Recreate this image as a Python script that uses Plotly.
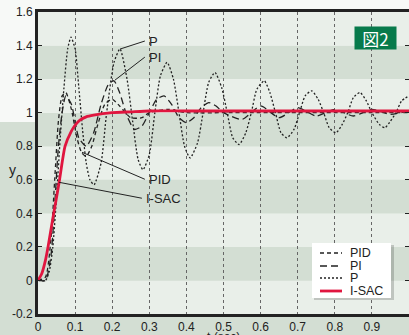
import plotly.graph_objects as go

# ---------------- data ----------------
x_ticks = [0, 0.1, 0.2, 0.3, 0.4, 0.5, 0.6, 0.7, 0.8, 0.9]
x_ticklabels = ["0", "0.1", "0.2", "0.3", "0.4", "0.5", "0.6", "0.7", "0.8", "0.9"]
y_ticks = [-0.2, 0, 0.2, 0.4, 0.6, 0.8, 1.0, 1.2, 1.4, 1.6]
y_ticklabels = ["-0.2", "0", "0.2", "0.4", "0.6", "0.8", "1", "1.2", "1.4", "1.6"]

t_isac = [0, 0.01, 0.02, 0.027, 0.04, 0.057, 0.073, 0.09, 0.1, 0.113, 0.13, 0.15, 0.2, 0.25, 0.3, 0.4, 0.5, 0.6, 0.7, 0.8, 0.9, 1.0]
y_isac = [0, 0.04, 0.12, 0.2, 0.37, 0.585, 0.8, 0.89, 0.925, 0.955, 0.975, 0.985, 1.0, 1.005, 1.01, 1.01, 1.01, 1.01, 1.01, 1.01, 1.01, 1.01]

t_p = [0, 0.02, 0.03, 0.04, 0.05, 0.06, 0.07, 0.08, 0.089, 0.1, 0.11, 0.12, 0.13, 0.14, 0.151,
       0.17, 0.185, 0.205, 0.221, 0.24, 0.255, 0.27, 0.283, 0.30, 0.315, 0.33, 0.348, 0.365,
       0.38, 0.395, 0.41, 0.43, 0.445, 0.46, 0.477, 0.495, 0.51, 0.525, 0.542, 0.56, 0.575,
       0.59, 0.61, 0.625, 0.64, 0.655, 0.671, 0.69, 0.705, 0.72, 0.738, 0.755, 0.77, 0.785,
       0.803, 0.82, 0.835, 0.85, 0.868, 0.885, 0.90, 0.92, 0.935, 0.95, 0.965, 0.98, 1.0]
y_p = [0, 0.0, 0.05, 0.2, 0.5, 0.85, 1.15, 1.38, 1.45, 1.38, 1.15, 0.9, 0.7, 0.6, 0.57,
       0.7, 1.0, 1.3, 1.38, 1.2, 0.95, 0.72, 0.66, 0.75, 1.0, 1.22, 1.30, 1.2,
       1.0, 0.8, 0.73, 0.82, 1.0, 1.18, 1.24, 1.15, 1.0, 0.85, 0.81, 0.88, 1.0,
       1.14, 1.19, 1.12, 1.0, 0.88, 0.85, 0.9, 1.0, 1.1, 1.13, 1.08, 1.0, 0.91,
       0.88, 0.93, 1.0, 1.09, 1.12, 1.07, 1.0, 0.93, 0.91, 0.95, 1.0, 1.07, 1.1]

t_pi = [0, 0.02, 0.035, 0.045, 0.055, 0.065, 0.075, 0.09, 0.11, 0.13, 0.15, 0.17, 0.19, 0.205,
        0.22, 0.24, 0.26, 0.28, 0.3, 0.32, 0.34, 0.36, 0.38, 0.4, 0.42, 0.44, 0.46, 0.48, 0.5,
        0.55, 0.6, 0.65, 0.7, 0.75, 0.8, 0.85, 0.9, 0.95, 1.0]
y_pi = [0, 0.0, 0.15, 0.45, 0.8, 1.0, 1.1, 1.05, 0.85, 0.8, 0.88, 1.05, 1.17, 1.19,
        1.12, 0.98, 0.9, 0.92, 1.0, 1.08, 1.1, 1.05, 0.97, 0.94, 0.97, 1.03, 1.06, 1.04, 1.0,
        0.96, 1.04, 0.97, 1.03, 0.98, 1.02, 0.98, 1.02, 0.99, 1.01]

t_pid = [0, 0.02, 0.035, 0.045, 0.055, 0.065, 0.075, 0.09, 0.105, 0.118, 0.13, 0.145, 0.16,
         0.18, 0.2, 0.22, 0.25, 0.28, 0.3, 0.35, 0.4, 0.5, 0.6, 0.7, 0.8, 0.9, 1.0]
y_pid = [0, 0.02, 0.25, 0.6, 0.95, 1.1, 1.12, 1.02, 0.85, 0.76, 0.74, 0.8, 0.92,
         1.05, 1.08, 1.04, 0.97, 0.97, 1.0, 1.02, 1.0, 1.0, 1.0, 1.0, 1.0, 1.0, 1.0]

series = [
    ("PID", t_pid, y_pid),
    ("PI", t_pi, y_pi),
    ("P", t_p, y_p),
    ("I-SAC", t_isac, y_isac),
]

# ---------------- styles ----------------
styles = {
    "PID": dict(color="#222222", width=1.3, dash="4px,3px"),
    "PI": dict(color="#222222", width=1.3, dash="7px,4px"),
    "P": dict(color="#222222", width=1.3, dash="2px,2px"),
    "I-SAC": dict(color="#e0163f", width=2.8, dash="solid"),
}

fig = go.Figure()
for name, t, y in series:
    fig.add_trace(go.Scatter(x=t, y=y, mode="lines", name=name, showlegend=False,
                             line=dict(shape="spline", smoothing=0.6, **styles[name])))

# dummy trace for right-side ticks
fig.add_trace(go.Scatter(x=[0], y=[0], yaxis="y2", mode="lines", showlegend=False,
                         hoverinfo="skip", line=dict(width=0)))

LIGHT = "#e9efe9"
DARK = "#d3ded3"
shapes = []
# page background lower part
shapes.append(dict(type="rect", xref="paper", yref="paper", x0=-0.2, x1=1.1, y0=-0.2, y1=0.636,
                   fillcolor=DARK, line_width=0, layer="below"))
# bands
for i in range(9):
    y0 = -0.2 + 0.2 * i
    shapes.append(dict(type="rect", xref="x", yref="y", x0=0, x1=1.0, y0=y0, y1=y0 + 0.2,
                       fillcolor=(LIGHT if i % 2 == 0 else DARK), line_width=0, layer="below"))

# label pointer lines
pointers = [
    ("P", 0.221, 1.379, 0.288, 1.427),
    ("PI", 0.2075, 1.194, 0.288, 1.331),
    ("PID", 0.1186, 0.764, 0.288, 0.603),
    ("I-SAC", 0.0566, 0.585, 0.280, 0.49),
]
annotations = []
for name, x0, y0, x1, y1 in pointers:
    shapes.append(dict(type="line", xref="x", yref="y", x0=x0, y0=y0, x1=x1, y1=y1,
                       line=dict(color="#222222", width=1)))
    annotations.append(dict(x=x1 + 0.005, y=y1, xref="x", yref="y", text=name, showarrow=False,
                            xanchor="left", yanchor="middle",
                            font=dict(family="Liberation Sans, Arial", size=13, color="#222222")))

# custom legend box (paper coords): px x 312-391, y 243-298
def px2paper_x(px):
    return (px - 38) / 371.0

def px2paper_y(py):
    return (314 - py) / 302.0

shapes.append(dict(type="rect", xref="paper", yref="paper",
                   x0=px2paper_x(314), x1=px2paper_x(394), y0=px2paper_y(300), y1=px2paper_y(245),
                   fillcolor="rgba(0,0,0,0.18)", line_width=0))
shapes.append(dict(type="rect", xref="paper", yref="paper",
                   x0=px2paper_x(312), x1=px2paper_x(391), y0=px2paper_y(298), y1=px2paper_y(243),
                   fillcolor="white", line_width=0))
leg_rows = [253, 266, 278, 291]
for (name, _, _), py in zip(series, leg_rows):
    st = styles[name]
    shapes.append(dict(type="line", xref="paper", yref="paper",
                       x0=px2paper_x(320), x1=px2paper_x(342), y0=px2paper_y(py), y1=px2paper_y(py),
                       line=dict(color=st["color"], width=st["width"], dash=st["dash"])))
    annotations.append(dict(x=px2paper_x(348), y=px2paper_y(py), xref="paper", yref="paper",
                            text=name, showarrow=False, xanchor="left", yanchor="middle",
                            font=dict(family="Liberation Sans, Arial", size=12.5, color="#222222")))

# figure tag
annotations.append(dict(x=px2paper_x(375.5), y=px2paper_y(38), xref="paper", yref="paper",
                        text="図2", showarrow=False, xanchor="center", yanchor="middle",
                        bgcolor="#077a4b", width=39, height=20, borderpad=1,
                        font=dict(family="Noto Sans CJK JP", size=17, color="white")))
# axis titles
annotations.append(dict(x=px2paper_x(12), y=0.66, xref="paper", yref="y", text="y",
                        showarrow=False, xanchor="center", yanchor="middle",
                        font=dict(family="Liberation Sans, Arial", size=14, color="#222222")))
annotations.append(dict(x=0.5, y=px2paper_y(328), xref="x", yref="paper", text="t (sec)",
                        showarrow=False, xanchor="center", yanchor="top",
                        font=dict(family="Liberation Sans, Arial", size=12, color="#222222")))

fig.update_layout(
    width=409, height=335,
    margin=dict(l=38, r=0, t=12, b=21),
    paper_bgcolor="#f7f9f7",
    plot_bgcolor="rgba(0,0,0,0)",
    shapes=shapes,
    annotations=annotations,
    font=dict(family="Liberation Sans, Arial", size=12, color="#222222"),
    xaxis=dict(range=[0, 1.0], tickvals=x_ticks, ticktext=x_ticklabels, ticks="",
               showline=True, linewidth=3, linecolor="#222222", mirror=True,
               showgrid=True, gridcolor="#666666", griddash="dot", gridwidth=1,
               zeroline=False, tickfont=dict(size=12, color="#222222")),
    yaxis=dict(range=[-0.2, 1.6], tickvals=y_ticks, ticktext=y_ticklabels, ticks="inside",
               ticklen=4, tickcolor="#222222", showline=True, linewidth=3, linecolor="#222222",
               showgrid=False, zeroline=False, tickfont=dict(size=12, color="#222222")),
    yaxis2=dict(range=[-0.2, 1.6], overlaying="y", side="right", tickvals=y_ticks,
                ticks="inside", ticklen=4, tickcolor="#222222", showticklabels=False,
                showgrid=False, zeroline=False, showline=False),
)

fig.write_html(
    "out.html",
    config={"displayModeBar": False, "staticPlot": True},
    post_script="document.body.style.margin='0';document.body.style.overflow='hidden';",
)
